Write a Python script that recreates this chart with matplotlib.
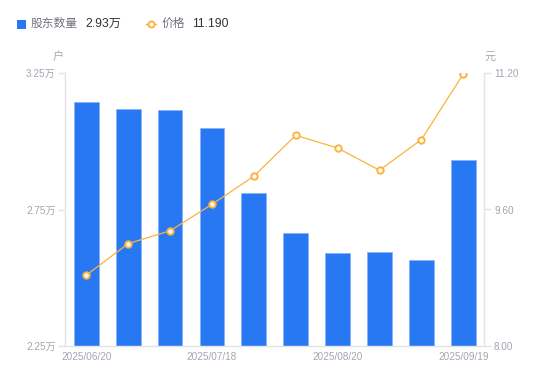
import matplotlib
matplotlib.use("Agg")
import matplotlib.pyplot as plt
from matplotlib.patches import Rectangle
from matplotlib.lines import Line2D

plt.rcParams['font.family'] = ['Liberation Sans', 'Noto Sans CJK SC', 'DejaVu Sans']

dates = ["2025/06/20", "2025/06/30", "2025/07/10", "2025/07/18", "2025/07/31",
         "2025/08/10", "2025/08/20", "2025/08/31", "2025/09/10", "2025/09/19"]
holders = [3.143, 3.117, 3.114, 3.047, 2.809, 2.664, 2.590, 2.594, 2.565, 2.93]  # 万户
prices = [8.83, 9.20, 9.35, 9.66, 9.99, 10.47, 10.32, 10.06, 10.42, 11.19]       # 元
left_ticks = [2.25, 2.75, 3.25]
right_ticks = [8.00, 9.60, 11.20]
shown_idx = [0, 3, 6, 9]

BLUE = "#2878f4"
ORANGE = "#fbb33d"
TICK = "#a3a6b1"
AXIS = "#e3e4e8"

fig = plt.figure(figsize=(5.5, 3.81), dpi=100)
ax = fig.add_axes([65.3 / 550, 1 - 346 / 381, 419 / 550, 273 / 381])
x = list(range(len(dates)))
ax.bar(x, holders, width=0.59, color=BLUE, edgecolor="#7fb0f8", linewidth=0.4, zorder=2)
ax.set_xlim(-0.5, len(dates) - 0.5)
ax.set_ylim(left_ticks[0], left_ticks[-1])
ax.set_yticks(left_ticks)
ax.set_yticklabels([f"{v:.2f}万" for v in left_ticks])
ax.set_xticks([x[i] for i in shown_idx])
ax.set_xticklabels([dates[i] for i in shown_idx])

ax2 = ax.twinx()
ax2.plot(x, prices, color=ORANGE, lw=0.9, marker="o", ms=4.6, mfc="white",
         mec=ORANGE, mew=1.4, zorder=3)
ax2.set_ylim(right_ticks[0], right_ticks[-1])
ax2.set_yticks(right_ticks)
ax2.set_yticklabels([f"{v:.2f}" for v in right_ticks])

for a in (ax, ax2):
    a.spines["top"].set_visible(False)
    for s in ("left", "right", "bottom"):
        a.spines[s].set_color(AXIS)
        a.spines[s].set_linewidth(1)
    a.tick_params(colors=AXIS, labelcolor=TICK, labelsize=7.2, length=5, width=1)
ax.tick_params(axis="x", length=0, pad=4)
ax2.spines["left"].set_visible(False)
ax.spines["right"].set_visible(False)
ax2.spines["bottom"].set_visible(False)
ax.tick_params(axis="y", pad=2)
ax2.tick_params(axis="y", pad=2)
ax2.set_zorder(ax.get_zorder() + 1)
ax2.patch.set_visible(False)

# unit labels
fig.text(58.5 / 550, 1 - 57 / 381, "户", color=TICK, fontsize=8, ha="center", va="center")
fig.text(490 / 550, 1 - 57 / 381, "元", color=TICK, fontsize=8, ha="center", va="center")

# legend
fig.add_artist(Rectangle((17 / 550, 1 - 28.5 / 381), 8.5 / 550, 8.5 / 381,
                         transform=fig.transFigure, color=BLUE, lw=0))
fig.text(31 / 550, 1 - 24.3 / 381, "股东数量", color="#707380", fontsize=8.5, va="center")
fig.text(85 / 550, 1 - 24.3 / 381, f"{holders[-1]:.2f}万", color="#333333", fontsize=8.7, va="center")
fig.add_artist(Line2D([146 / 550, 156 / 550], [1 - 24.3 / 381] * 2, transform=fig.transFigure,
                      color=ORANGE, lw=1))
fig.add_artist(Line2D([151 / 550], [1 - 24.3 / 381], transform=fig.transFigure, marker="o",
                      ms=4.3, mfc="white", mec=ORANGE, mew=1.4))
fig.text(161.5 / 550, 1 - 24.3 / 381, "价格", color="#707380", fontsize=8.5, va="center")
fig.text(192 / 550, 1 - 24.3 / 381, f"{prices[-1]:.3f}", color="#333333", fontsize=8.7, va="center")

fig.savefig("out.png", dpi=100)
